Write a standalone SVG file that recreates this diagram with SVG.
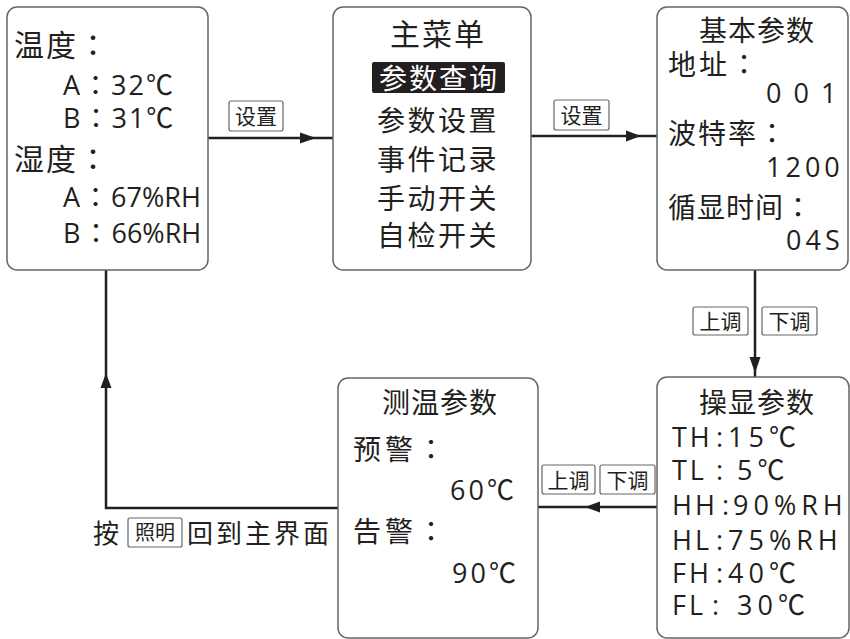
<svg xmlns="http://www.w3.org/2000/svg" width="850" height="639" viewBox="0 0 850 639">
<style>
.box{fill:#fff;stroke:#666;stroke-width:1.5}
.t{font-family:"Open Sans","Noto Sans CJK SC",sans-serif;fill:#231f20}
.cj{font-family:"Noto Sans CJK SC","Open Sans",sans-serif;fill:#231f20}
.co{font-family:"Noto Sans CJK TC","Noto Sans CJK SC",sans-serif}
.lbl{fill:#fff;stroke:#666;stroke-width:1.2}
.lt{font-family:"Noto Sans CJK SC",sans-serif;font-size:21px;fill:#231f20;text-anchor:middle}
.ln{fill:none;stroke:#231f20;stroke-width:2.5}
.ah{fill:#231f20}
</style>
<rect width="850" height="639" fill="#fff"/>

<g id="connectors">
  <line class="ln" x1="208" y1="138" x2="333" y2="138"/>
  <polygon class="ah" points="316,138 300,132.5 300,143.5"/>
  <line class="ln" x1="531" y1="136" x2="657" y2="136"/>
  <polygon class="ah" points="641,136 626,130.5 626,141.5"/>
  <line class="ln" x1="755" y1="270" x2="755" y2="377"/>
  <polygon class="ah" points="755,373 749.5,357 760.5,357"/>
  <line class="ln" x1="657" y1="507" x2="538" y2="507"/>
  <polygon class="ah" points="585,507 600,501.5 600,512.5"/>
  <polyline class="ln" points="338,508 106,508 106,270"/>
  <polygon class="ah" points="106,373 100.5,388 111.5,388"/>
  <g id="lbl-set1"><rect class="lbl" x="229" y="101" width="54" height="30" rx="2"/><text class="lt" x="256" y="124">设置</text></g>
  <g id="lbl-set2"><rect class="lbl" x="554" y="100" width="55" height="30" rx="2"/><text class="lt" x="581.5" y="123">设置</text></g>
  <g id="lbl-up1"><rect class="lbl" x="693" y="307" width="55" height="28" rx="2"/><text class="lt" x="720.5" y="329">上调</text></g>
  <g id="lbl-down1"><rect class="lbl" x="762" y="307" width="55" height="28" rx="2"/><text class="lt" x="789.5" y="329">下调</text></g>
  <g id="lbl-up2"><rect class="lbl" x="542" y="465" width="53" height="29" rx="2"/><text class="lt" x="568.5" y="488">上调</text></g>
  <g id="lbl-down2"><rect class="lbl" x="600" y="465" width="55" height="29" rx="2"/><text class="lt" x="627.5" y="488">下调</text></g>
  <g id="lbl-return">
    <text class="cj" x="93" y="543" font-size="26">按</text>
    <rect class="lbl" x="128" y="518" width="54" height="29" rx="2"/>
    <text class="lt" x="155" y="540" style="font-size:20px">照明</text>
    <text class="cj" x="187" y="543" font-size="26" letter-spacing="3">回到主界面</text>
  </g>
</g>

<g id="home">
  <rect class="box" x="7" y="7" width="201" height="263" rx="10"/>
  <text class="cj" x="14" y="56" font-size="30" letter-spacing="2">温度<tspan class="co">：</tspan></text>
  <text class="t" x="63" y="95" font-size="27" letter-spacing="2">A<tspan class="co">：</tspan>32℃</text>
  <text class="t" x="63" y="128" font-size="27" letter-spacing="2">B<tspan class="co">：</tspan>31℃</text>
  <text class="cj" x="14" y="170" font-size="30" letter-spacing="2">湿度<tspan class="co">：</tspan></text>
  <text class="t" x="63" y="207" font-size="27" letter-spacing="2">A<tspan class="co">：</tspan><tspan letter-spacing="0">67%RH</tspan></text>
  <text class="t" x="63" y="243" font-size="27" letter-spacing="2">B<tspan class="co">：</tspan><tspan letter-spacing="0">66%RH</tspan></text>
</g>

<g id="main-menu">
  <rect class="box" x="333" y="7" width="198" height="263" rx="10"/>
  <text class="cj" x="438" y="45" font-size="30" text-anchor="middle" letter-spacing="2">主菜单</text>
  <rect x="372" y="62" width="133" height="31" rx="2" fill="#231f20"/>
  <text class="cj" x="439" y="89" font-size="28" text-anchor="middle" letter-spacing="2" style="fill:#fff">参数查询</text>
  <text class="cj" x="438" y="131" font-size="28" text-anchor="middle" letter-spacing="2.5">参数设置</text>
  <text class="cj" x="438" y="170" font-size="28" text-anchor="middle" letter-spacing="2.5">事件记录</text>
  <text class="cj" x="438" y="209" font-size="28" text-anchor="middle" letter-spacing="2.5">手动开关</text>
  <text class="cj" x="438" y="246" font-size="28" text-anchor="middle" letter-spacing="2.5">自检开关</text>
</g>

<g id="basic-params">
  <rect class="box" x="657" y="7" width="191" height="263" rx="10"/>
  <text class="cj" x="757" y="41" font-size="28" text-anchor="middle" letter-spacing="1">基本参数</text>
  <text class="cj" x="668" y="75" font-size="28" letter-spacing="3">地址<tspan class="co">：</tspan></text>
  <text class="t" x="766" y="103" font-size="27" letter-spacing="12">001</text>
  <text class="cj" x="668" y="144" font-size="28" letter-spacing="2">波特率<tspan class="co">：</tspan></text>
  <text class="t" x="766" y="177" font-size="27" letter-spacing="4">1200</text>
  <text class="cj" x="668" y="218" font-size="28" letter-spacing="1">循显时间<tspan class="co">：</tspan></text>
  <text class="t" x="786" y="250" font-size="27" letter-spacing="4">04S</text>
</g>

<g id="display-params">
  <rect class="box" x="657" y="377" width="192" height="261" rx="10"/>
  <text class="cj" x="757" y="413" font-size="28" text-anchor="middle" letter-spacing="1">操显参数</text>
  <text class="t" font-size="27" letter-spacing="5"><tspan x="672" y="447" letter-spacing="3">TH</tspan><tspan x="716" y="447">:</tspan><tspan x="728" y="447">15℃</tspan></text>
  <text class="t" font-size="27" letter-spacing="5"><tspan x="672" y="480" letter-spacing="3">TL</tspan><tspan x="716" y="480">:</tspan><tspan x="737" y="480">5℃</tspan></text>
  <text class="t" font-size="27" letter-spacing="5"><tspan x="672" y="515" letter-spacing="3">HH</tspan><tspan x="722" y="515">:</tspan><tspan x="733" y="515">90%RH</tspan></text>
  <text class="t" font-size="27" letter-spacing="5"><tspan x="672" y="550" letter-spacing="3">HL</tspan><tspan x="716" y="550">:</tspan><tspan x="728" y="550">75%RH</tspan></text>
  <text class="t" font-size="27" letter-spacing="5"><tspan x="672" y="583" letter-spacing="3">FH</tspan><tspan x="716" y="583">:</tspan><tspan x="728" y="583">40℃</tspan></text>
  <text class="t" font-size="27" letter-spacing="5"><tspan x="672" y="615" letter-spacing="3">FL</tspan><tspan x="712" y="615">:</tspan><tspan x="737" y="615">30℃</tspan></text>
</g>

<g id="temp-params">
  <rect class="box" x="338" y="378" width="200" height="260" rx="10"/>
  <text class="cj" x="440" y="413" font-size="28" text-anchor="middle" letter-spacing="1">测温参数</text>
  <text class="cj" x="353" y="460" font-size="28" letter-spacing="4">预警<tspan class="co">：</tspan></text>
  <text class="t" x="450" y="500" font-size="27" letter-spacing="3">60℃</text>
  <text class="cj" x="353" y="542" font-size="28" letter-spacing="4">告警<tspan class="co">：</tspan></text>
  <text class="t" x="452" y="583" font-size="27" letter-spacing="3">90℃</text>
</g>
</svg>
